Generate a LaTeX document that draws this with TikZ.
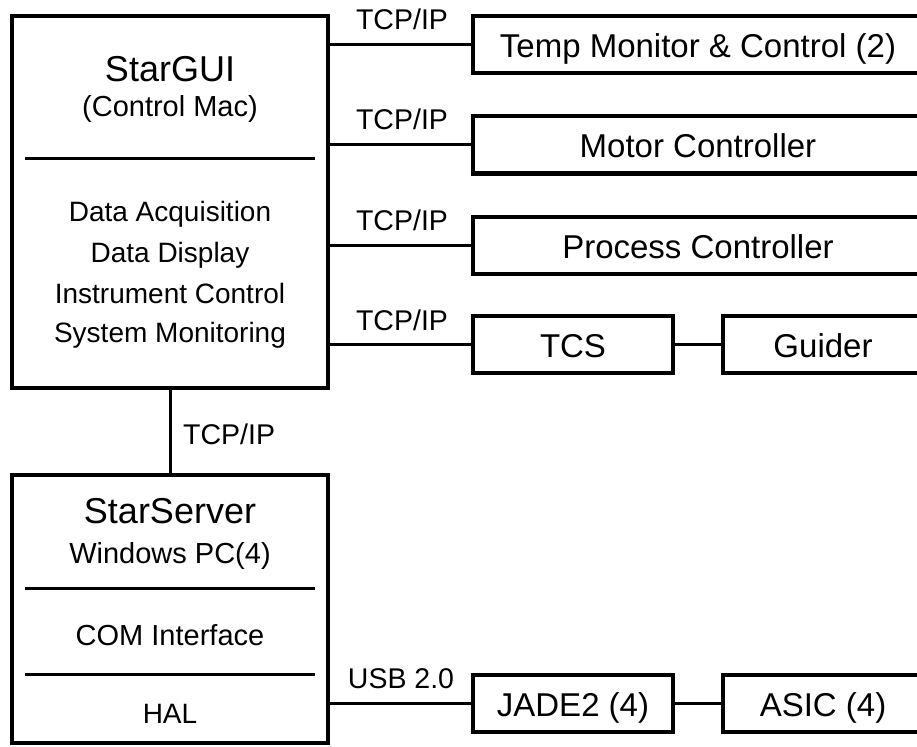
\documentclass[tikz,border=0pt]{standalone}
\usepackage{fontspec}
\setmainfont{Liberation Sans}
\begin{document}
\begin{tikzpicture}[x=1pt,y=-1pt,
  box/.style={draw=black,line width=4pt,rectangle,inner sep=0pt,fill=white},
  wide/.style={box,minimum width=450pt,minimum height=57pt,text height=31pt,text depth=5pt,font=\fontsize{33}{38}\selectfont},
  small/.style={box,minimum width=200pt,minimum height=57pt,text height=31pt,text depth=5pt,font=\fontsize{33}{38}\selectfont},
  link/.style={draw=black,line width=3pt},
  divider/.style={draw=black,line width=3pt},
  lbl/.style={anchor=base,inner sep=0pt,font=\fontsize{28.5}{32}\selectfont},
  title/.style={anchor=base,inner sep=0pt,font=\fontsize{36}{40}\selectfont},
  sub/.style={anchor=base,inner sep=0pt,font=\fontsize{29}{33}\selectfont},
  item/.style={anchor=base,inner sep=0pt,font=\fontsize{28}{32}\selectfont}]
\useasboundingbox[fill=white] (0,0) rectangle (917,746);
% main boxes
\node[box,minimum width=316pt,minimum height=372pt] (gui) at (170,202) {};
\node[box,minimum width=316pt,minimum height=268pt] (server) at (170,609) {};
% right boxes
\node[wide] (temp) at (698,44.5) {Temp Monitor \& Control (2)};
\node[wide] (motor) at (698,145) {Motor Controller};
\node[wide] (proc) at (698,245) {Process Controller};
\node[small] (tcs) at (573,344.5) {TCS};
\node[small] (guider) at (823,344.5) {Guider};
\node[small] (jade) at (573,703) {JADE2 (4)};
\node[small] (asic) at (823,703) {ASIC (4)};
% GUI text
\node[title] (guiT) at (170,82) {StarGUI};
\node[sub] (guiS) at (170,117) {(Control Mac)};
\coordinate (gd1) at (25,159);
\coordinate (gd2) at (315,159);
\draw[divider] (gd1) -- (gd2);
\node[item] (i1) at (170,221) {Data Acquisition};
\node[item] (i2) at (170,262) {Data Display};
\node[item] (i3) at (170,303) {Instrument Control};
\node[item] (i4) at (170,342) {System Monitoring};
% Server text
\node[title] (srvT) at (170,523) {StarServer};
\node[sub] (srvS) at (170,563) {Windows PC(4)};
\coordinate (sd1) at (25,588);
\coordinate (sd2) at (315,588);
\draw[divider] (sd1) -- (sd2);
\node[sub] (com) at (170,645) {COM Interface};
\coordinate (sd3) at (25,674);
\coordinate (sd4) at (315,674);
\draw[divider] (sd3) -- (sd4);
\node[item] (hal) at (170,723) {HAL};
% connectors
\draw[link] (gui.east |- temp.west) -- (temp.west);
\draw[link] (gui.east |- motor.west) -- (motor.west);
\draw[link] (gui.east |- proc.west) -- (proc.west);
\draw[link] (gui.east |- tcs.west) -- (tcs.west);
\draw[link] (tcs.east) -- (guider.west);
\draw[link] (gui.south) -- (server.north);
\draw[link] (server.east |- jade.west) -- (jade.west);
\draw[link] (jade.east) -- (asic.west);
% labels
\node[lbl] (l1) at (402,30) {TCP/IP};
\node[lbl] (l2) at (402,130) {TCP/IP};
\node[lbl] (l3) at (402,230) {TCP/IP};
\node[lbl] (l4) at (402,330) {TCP/IP};
\node[lbl,anchor=base west] (l5) at (183,444) {TCP/IP};
\node[lbl] (l6) at (401,688) {USB 2.0};
\end{tikzpicture}
\end{document}
